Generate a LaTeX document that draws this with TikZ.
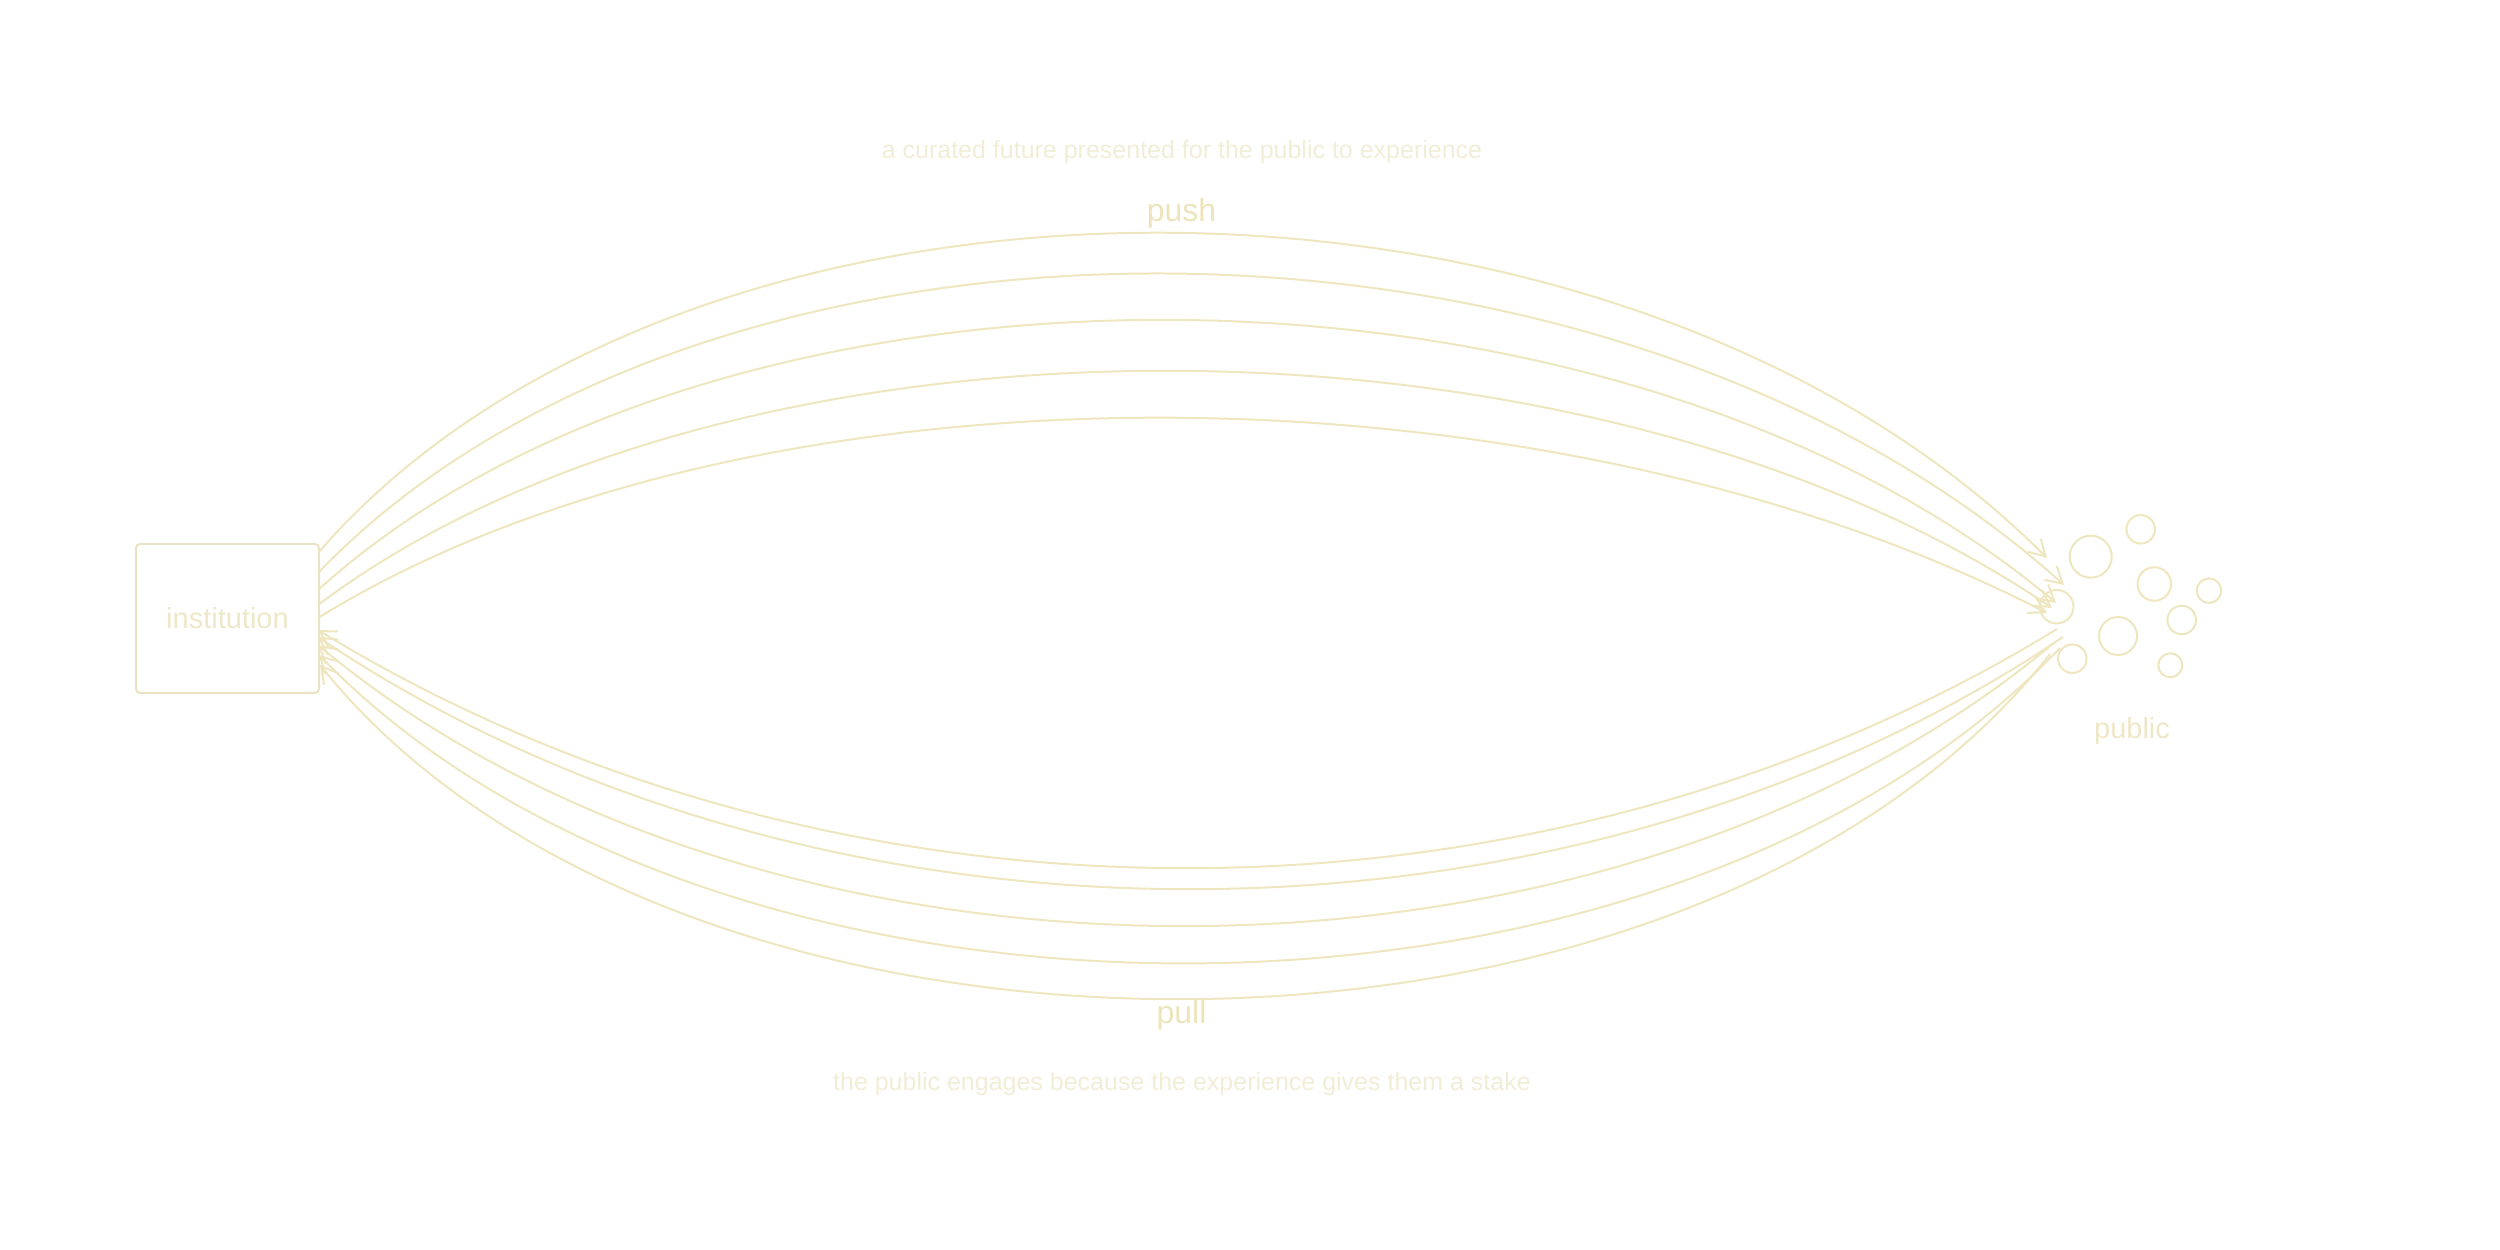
\documentclass[tikz,border=0pt]{standalone}
\usepackage{fontspec}
\setmainfont{Liberation Sans}
\usetikzlibrary{arrows.meta}
\definecolor{ln}{HTML}{EEE6BF}
\definecolor{boxln}{HTML}{E9E2C4}
\definecolor{lbl}{HTML}{EEE7C8}
\definecolor{cap}{HTML}{F2EDD7}
\definecolor{pp}{HTML}{EDE4BC}
\begin{document}
\begin{tikzpicture}[x=0.4pt,y=-0.4pt,
  flow/.style={draw=ln, line width=0.8pt, -{Straight Barb[length=6.4pt,width=7.4pt,line width=0.8pt]}},
  crowd/.style={circle, draw=ln, line width=0.8pt, inner sep=0pt},
  instbox/.style={draw=boxln, line width=0.8pt, rounded corners=1.6pt, minimum width=73.2pt, minimum height=59.6pt, inner sep=0pt, text=lbl, font=\fontsize{11.6pt}{13pt}\selectfont},
  captxt/.style={text=cap, font=\fontsize{10pt}{12pt}\selectfont, anchor=base, inner sep=0pt},
  pptxt/.style={text=pp, font=\fontsize{12.8pt}{15pt}\selectfont, anchor=base, inner sep=0pt},
  pubtxt/.style={text=lbl, font=\fontsize{11.6pt}{13pt}\selectfont, anchor=base, inner sep=0pt}]
\useasboundingbox (0,0) rectangle (2500,1250);

% institution
\node[instbox] (inst) at (227.5,618.5) {\raisebox{-1.2pt}{institution}};

% public crowd
\node[crowd, minimum size=16.8pt] (pa) at (2090.7,556.7) {};
\node[crowd, minimum size=11.4pt] (pb) at (2140.7,529.3) {};
\node[crowd, minimum size=13.4pt] (pc) at (2154.3,584) {};
\node[crowd, minimum size=9.8pt]  (pd) at (2209,590.7) {};
\node[crowd, minimum size=11.4pt] (pe) at (2181.7,620) {};
\node[crowd, minimum size=13.4pt] (pf) at (2056.7,606.7) {};
\node[crowd, minimum size=15.2pt] (pg) at (2118,636) {};
\node[crowd, minimum size=11.4pt] (ph) at (2072.3,658.7) {};
\node[crowd, minimum size=9.6pt]  (pi) at (2170.3,665.3) {};
\node[pubtxt] (publbl) at (2132,739) {public};

% labels
\node[captxt] (toptxt) at (1182,159) {a curated future presented for the public to experience};
\node[pptxt] (push) at (1181.5,222) {push};
\node[pptxt] (pull) at (1181.5,1023) {pull};
\node[captxt] (bottxt) at (1182,1090) {the public engages because the experience gives them a stake};

% push anchors
\coordinate (s1) at (318,553);
\coordinate (s2) at (318,573);
\coordinate (s3) at (318,590);
\coordinate (s4) at (318,605);
\coordinate (s5) at (318,618);
\coordinate (t1) at (2047,558);
\coordinate (t2) at (2064,585);
\coordinate (t3) at (2056,603);
\coordinate (t4) at (2052,608);
\coordinate (t5) at (2047,613);

\draw[flow] (s1) .. controls (688,125.5) and (1615,125.5) .. (t1);
\draw[flow] (s2) .. controls (703,172) and (1605,172) .. (t2);
\draw[flow] (s3) .. controls (718,228) and (1610,228) .. (t3);
\draw[flow] (s4) .. controls (733,292.5) and (1588,292.5) .. (t4);
\draw[flow] (s5) .. controls (748,352) and (1540,352) .. (t5);

% pull anchors
\coordinate (q1) at (2057,629);
\coordinate (q2) at (2063,637);
\coordinate (q3) at (2055,642);
\coordinate (q4) at (2060,648);
\coordinate (q5) at (2050,654);
\coordinate (e1) at (318,630);
\coordinate (e2) at (318,637);
\coordinate (e3) at (318,645);
\coordinate (e4) at (319,655);
\coordinate (e5) at (320,665);

\draw[flow] (q1) .. controls (1537,947.5) and (838,947.5) .. (e1);
\draw[flow] (q2) .. controls (1563,973) and (818,973) .. (e2);
\draw[flow] (q3) .. controls (1605,1020) and (768,1020) .. (e3);
\draw[flow] (q4) .. controls (1660,1067) and (719,1067) .. (e4);
\draw[flow] (q5) .. controls (1690,1112) and (680,1112) .. (e5);
\end{tikzpicture}
\end{document}
